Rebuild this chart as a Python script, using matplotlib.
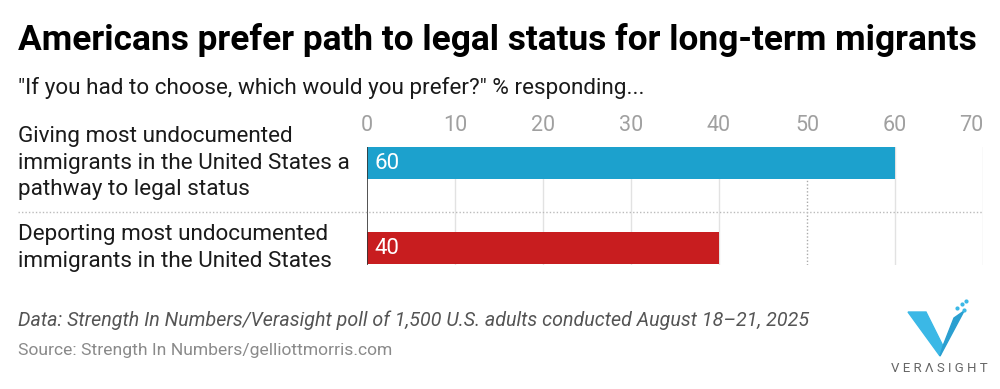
import matplotlib
matplotlib.use("Agg")
import matplotlib.pyplot as plt
from matplotlib.patches import Polygon
from matplotlib.lines import Line2D

plt.rcParams['font.family'] = ['Roboto', 'DejaVu Sans']

categories = ["Giving most undocumented\nimmigrants in the United States a\npathway to legal status",
              "Deporting most undocumented\nimmigrants in the United States"]
values = [60, 40]
colors = ["#1ca1cd", "#c81d1f"]
xticks = [0, 10, 20, 30, 40, 50, 60, 70]

title = "Americans prefer path to legal status for long-term migrants"
subtitle = "\"If you had to choose, which would you prefer?\" % responding..."
note = "Data: Strength In Numbers/Verasight poll of 1,500 U.S. adults conducted August 18\u201321, 2025"
source = "Source: Strength In Numbers/gelliottmorris.com"

W, H = 1000, 389
fig = plt.figure(figsize=(W / 100, H / 100), dpi=100)

def fx(px):
    return px / W

def fy(py):
    return 1 - py / H

ax = fig.add_axes([fx(367), fy(265), fx(983) - fx(367), (265 - 147) / H])
ypos = list(range(len(values)))
ax.barh(ypos, values, height=0.375, color=colors, zorder=2)
ax.set_xlim(0, 70)
ax.set_ylim(1.2, -0.19)

for x in xticks[1:]:
    if x == 50:
        ax.axvline(x, color="#aaaaaa", lw=1, ls=(0, (1, 1.5)), zorder=1)
    else:
        ax.axvline(x, color="#e2e2e2", lw=1, zorder=1)
ax.axvline(0, color="#333333", lw=1.2, zorder=3)

for y, v in zip(ypos, values):
    ax.text(0.8, y, str(v), color="white", fontsize=16, va="center", ha="left", zorder=4)

ax.xaxis.tick_top()
ax.set_xticks(xticks)
ax.set_xticklabels([str(t) for t in xticks], fontsize=15.5, color="#a0a0a0")
ax.get_xticklabels()[-1].set_ha("right")
ax.tick_params(axis="x", length=0, pad=8)
ax.set_yticks([])
for s in ax.spines.values():
    s.set_visible(False)

# category labels
fig.text(fx(18), fy(163), categories[0], fontsize=16.2, color="#1a1a1a", va="center", ha="left", linespacing=1.32)
fig.text(fx(18), fy(248), categories[1], fontsize=16.2, color="#1a1a1a", va="center", ha="left", linespacing=1.32)

# separator
fig.add_artist(Line2D([fx(18), fx(983)], [fy(212), fy(212)], color="#bbbbbb", lw=1, ls=(0, (1, 1.5))))

fig.text(fx(18), fy(40), title, fontsize=25.4, fontweight="bold", color="#000000", va="center", ha="left")
fig.text(fx(18), fy(88), subtitle, fontsize=16.2, color="#1a1a1a", va="center", ha="left")
fig.text(fx(18), fy(320), note, fontsize=14.1, style="italic", color="#555555", va="center", ha="left")
fig.text(fx(18), fy(350), source, fontsize=12.6, color="#8a8a8a", va="center", ha="left")

# verasight logo
v_left = [(908, 312), (926, 312), (943, 346), (940, 356)]
v_right = [(943, 346), (954, 318), (964, 311), (940, 356)]
fig.add_artist(Polygon([(fx(a), fy(b)) for a, b in v_left], closed=True, color="#3bb8e6", transform=fig.transFigure))
fig.add_artist(Polygon([(fx(a), fy(b)) for a, b in v_right], closed=True, color="#2a9fd0", transform=fig.transFigure))
for a, b in [(957, 308), (962, 304), (966, 301), (964, 310)]:
    fig.add_artist(Line2D([fx(a)], [fy(b)], marker="o", ms=2, color="#3bb8e6"))
fig.text(fx(939), fy(368), "V E R \u039b S I G H T", fontsize=9.5, color="#666666", va="center", ha="center")

fig.savefig("out.png", dpi=100)
